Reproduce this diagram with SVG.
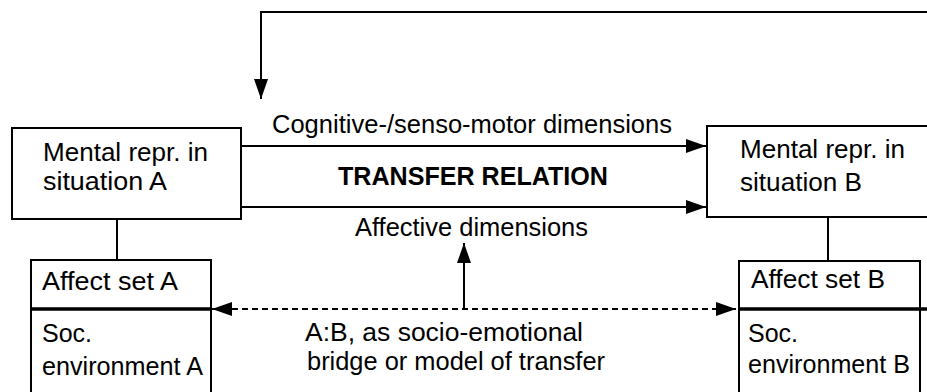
<svg xmlns="http://www.w3.org/2000/svg" width="927" height="392" viewBox="0 0 927 392">
  <style>
    .box { fill: #ffffff; stroke: #000000; stroke-width: 2; }
    .ln { fill: none; stroke: #000000; stroke-width: 2; }
    .dash { fill: none; stroke: #000000; stroke-width: 2; stroke-dasharray: 6 4; }
    .div { fill: none; stroke: #000000; stroke-width: 3.5; }
    text { font-family: "Liberation Sans", Arial, sans-serif; font-size: 25px; fill: #000000; }
    .bold { font-weight: bold; }
  </style>
  <defs>
    <marker id="arr" markerUnits="userSpaceOnUse" markerWidth="20" markerHeight="16" refX="20" refY="8" orient="auto-start-reverse" viewBox="0 0 20 16">
      <path d="M0,1 L20,8 L0,15 z" fill="#000000"/>
    </marker>
  </defs>
  <rect x="0" y="0" width="927" height="392" fill="#ffffff"/>

  <g id="connectors">
    <polyline class="ln" points="927,12 261,12 261,99" marker-end="url(#arr)"/>
    <line class="ln" x1="241" y1="146" x2="706" y2="146" marker-end="url(#arr)"/>
    <line class="ln" x1="241" y1="207" x2="706" y2="207" marker-end="url(#arr)"/>
    <line class="ln" x1="117" y1="219" x2="117" y2="260"/>
    <line class="ln" x1="828" y1="217" x2="828" y2="261"/>
    <line class="ln" x1="464" y1="309" x2="464" y2="243" marker-end="url(#arr)"/>
    <line class="dash" x1="212" y1="309" x2="736" y2="309" marker-start="url(#arr)" marker-end="url(#arr)"/>
  </g>

  <g id="mental-a">
    <rect class="box" x="12" y="128" width="229" height="91"/>
    <text x="43" y="161" textLength="165" lengthAdjust="spacingAndGlyphs">Mental repr. in</text>
    <text x="43" y="190" textLength="124" lengthAdjust="spacingAndGlyphs">situation A</text>
  </g>

  <g id="mental-b">
    <rect class="box" x="707" y="126" width="240" height="91"/>
    <text x="740" y="158" textLength="165" lengthAdjust="spacingAndGlyphs">Mental repr. in</text>
    <text x="740" y="191" textLength="122" lengthAdjust="spacingAndGlyphs">situation B</text>
  </g>

  <g id="affect-a">
    <rect class="box" x="31" y="260" width="180" height="150"/>
    <line class="div" x1="31" y1="309" x2="211" y2="309"/>
    <text x="42" y="290" textLength="136" lengthAdjust="spacingAndGlyphs">Affect set A</text>
    <text x="42" y="342">Soc.</text>
    <text x="42" y="375" textLength="161" lengthAdjust="spacingAndGlyphs">environment A</text>
  </g>

  <g id="affect-b">
    <rect class="box" x="739" y="261" width="181" height="150"/>
    <line class="div" x1="739" y1="309" x2="927" y2="309"/>
    <text x="751" y="288" textLength="134" lengthAdjust="spacingAndGlyphs">Affect set B</text>
    <text x="748" y="342">Soc.</text>
    <text x="748" y="373" textLength="162" lengthAdjust="spacingAndGlyphs">environment B</text>
  </g>

  <g id="labels">
    <text x="272" y="133" textLength="400" lengthAdjust="spacingAndGlyphs">Cognitive-/senso-motor dimensions</text>
    <text class="bold" x="338" y="185" textLength="270" lengthAdjust="spacingAndGlyphs">TRANSFER RELATION</text>
    <text x="355" y="236" textLength="233" lengthAdjust="spacingAndGlyphs">Affective dimensions</text>
    <text x="305" y="341" textLength="278" lengthAdjust="spacingAndGlyphs">A:B, as socio-emotional</text>
    <text x="307" y="370" textLength="298" lengthAdjust="spacingAndGlyphs">bridge or model of transfer</text>
  </g>
</svg>
